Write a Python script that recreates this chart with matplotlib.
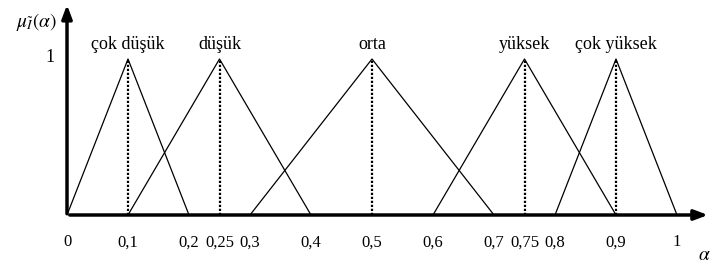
import matplotlib.pyplot as plt

plt.rcParams['font.family'] = ['Liberation Serif', 'DejaVu Serif']
plt.rcParams['mathtext.fontset'] = 'stix'

# fuzzy sets: (left, peak, right)
labels = ["çok düşük", "düşük", "orta", "yüksek", "çok yüksek"]
lefts = [0.0, 0.1, 0.3, 0.6, 0.8]
peaks = [0.1, 0.25, 0.5, 0.75, 0.9]
rights = [0.2, 0.4, 0.7, 0.9, 1.0]

ticks = [0, 0.1, 0.2, 0.25, 0.3, 0.4, 0.5, 0.6, 0.7, 0.75, 0.8, 0.9, 1]
tick_labels = ["0", "0,1", "0,2", "0,25", "0,3", "0,4", "0,5", "0,6", "0,7", "0,75", "0,8", "0,9", "1"]

fig = plt.figure(figsize=(7.12, 2.64), dpi=100)
ax = fig.add_axes([67 / 712, 49 / 264, 645 / 712, 215 / 264])
ax.set_xlim(0, 645 / 610)
ax.set_ylim(0, 215 / 156)
ax.axis("off")

for l, p, r, name in zip(lefts, peaks, rights, labels):
    ax.plot([l, p, r], [0, 1, 0], color="black", lw=0.9)
    ax.plot([p, p], [0, 1], color="black", lw=1.6, linestyle=(0, (1, 0.8)))
    ax.text(p, 1.09, name, ha="center", va="center", fontsize=13)

# axes with arrows
ax.annotate("", xy=(645 / 610 - 0.002, 0), xytext=(0, 0),
            arrowprops=dict(arrowstyle="-|>,head_length=0.8,head_width=0.3", lw=2.5, color="black"),
            annotation_clip=False)
ax.annotate("", xy=(0, 213 / 156), xytext=(0, -0.01),
            arrowprops=dict(arrowstyle="-|>,head_length=0.8,head_width=0.3", lw=2.5, color="black"),
            annotation_clip=False)

for t, s in zip(ticks, tick_labels):
    ax.text(t, -0.175, s, ha="center", va="center", fontsize=12)

ax.text(-0.02, 1.01, "1", ha="right", va="center", fontsize=13)
ax.text(-0.05, 1.24, r"$\mu_{\tilde{I}}(\alpha)$", ha="center", va="center", fontsize=14)
ax.text(1.045, -0.26, r"$\alpha$", ha="center", va="center", fontsize=14)

fig.savefig("out.png", dpi=100)
